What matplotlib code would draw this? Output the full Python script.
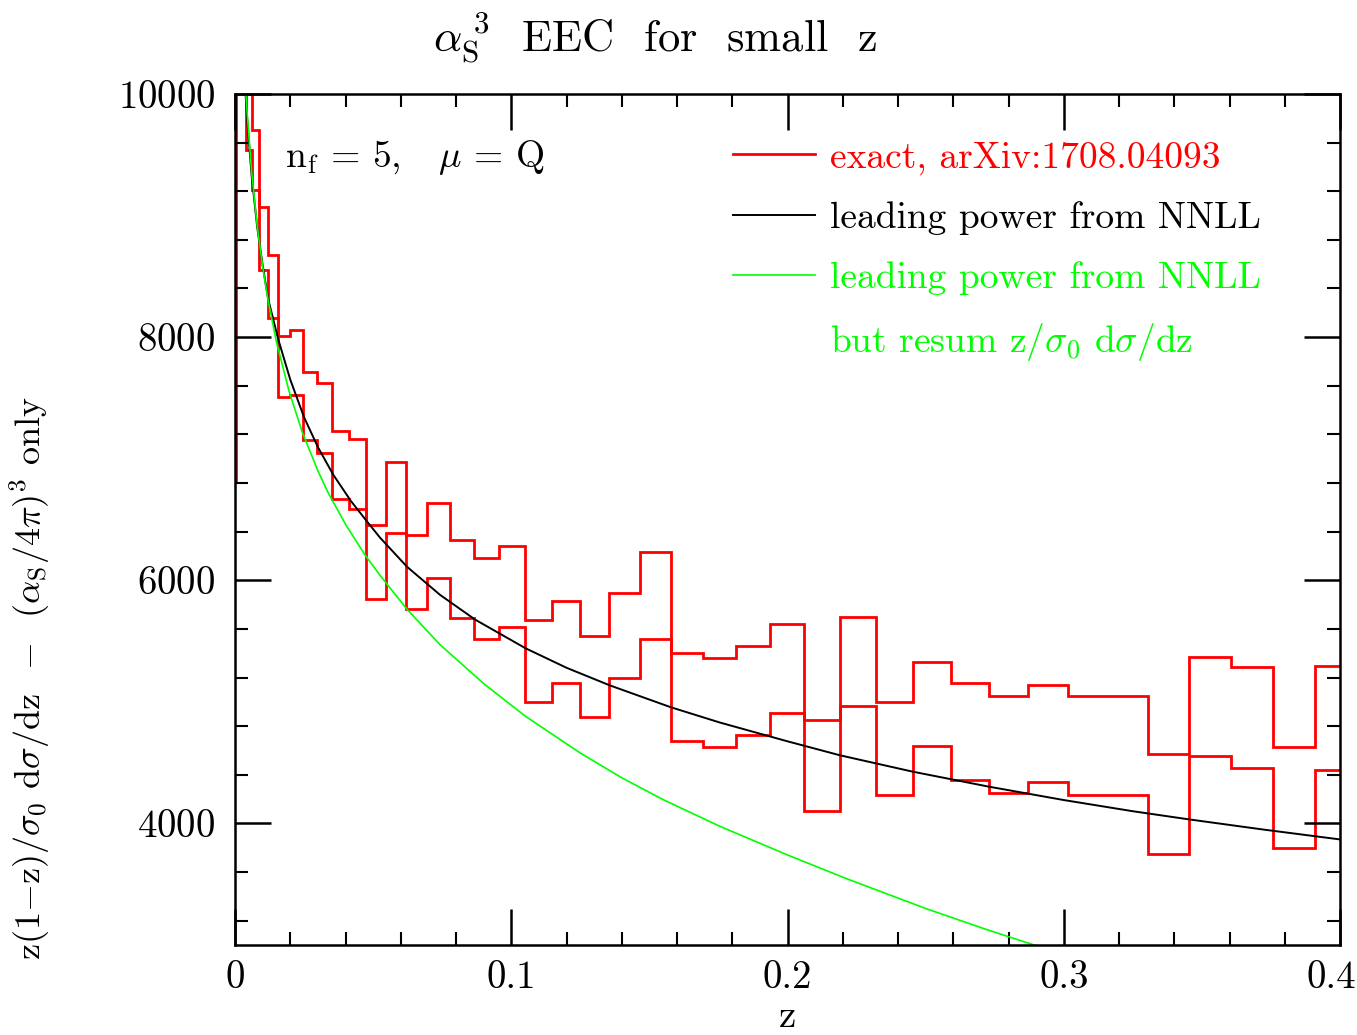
import matplotlib
matplotlib.use('Agg')
import matplotlib.pyplot as plt
from matplotlib.ticker import MultipleLocator
from matplotlib.transforms import ScaledTranslation

# bin edges in z
edges = [0, 0.000247, 0.000987, 0.002219, 0.003943, 0.006156, 0.008856, 0.012041,
         0.015708, 0.019853, 0.024472, 0.029560, 0.035112, 0.041123, 0.047586,
         0.054497, 0.061847, 0.069629, 0.077836, 0.086460, 0.095492, 0.104922,
         0.114743, 0.124944, 0.135516, 0.146447, 0.157726, 0.169344, 0.181288,
         0.193546, 0.206107, 0.218958, 0.232087, 0.245480, 0.259123, 0.273005,
         0.287110, 0.301426, 0.315937, 0.330631, 0.345492, 0.360504, 0.375655,
         0.390929, 0.406309]

# exact result, upper and lower histograms
exact_hi = [11800, 13000, 12500, 11500, 10800, 9706, 9070, 8672, 8010, 8058,
            7714, 7619, 7224, 7160, 6453, 6975, 6373, 6634, 6332, 6183,
            6280, 5671, 5830, 5542, 5896, 6233, 5405, 5358, 5456, 5638,
            4850, 5701, 5002, 5325, 5152, 5044, 5137, 5048, 5048, 4574,
            5369, 5287, 4631, 5295]
exact_lo = [6820, 12000, 11000, 10500, 9537, 9207, 8554, 8160, 7509, 7523,
            7155, 7045, 6667, 6584, 5844, 6392, 5761, 6015, 5687, 5514,
            5613, 4998, 5158, 4875, 5196, 5520, 4678, 4631, 4724, 4911,
            4101, 4966, 4233, 4634, 4356, 4253, 4338, 4230, 4230, 3751,
            4554, 4455, 3797, 4436]

# leading power from NNLL
nnll_z = [0.0036, 0.0045, 0.0060, 0.0080, 0.0100, 0.0120, 0.0156, 0.0200, 0.0250,
          0.0300, 0.0355, 0.0420, 0.0479, 0.0525, 0.0623, 0.0742, 0.0870, 0.1052,
          0.1200, 0.1357, 0.1578, 0.1756, 0.2000, 0.2190, 0.2454, 0.2729, 0.3000,
          0.3250, 0.3453, 0.3720, 0.4000]
nnll_v = [10070, 9760, 9330, 8910, 8590, 8313, 7985, 7650, 7340,
          7095, 6870, 6650, 6480, 6350, 6110, 5880, 5675, 5440,
          5280, 5135, 4955, 4829, 4675, 4560, 4425, 4302, 4192,
          4100, 4033, 3950, 3868]

# leading power from NNLL, resummed z/sigma0 dsigma/dz
resum_z = [0.0036, 0.0042, 0.0060, 0.0080, 0.0100, 0.0120, 0.0150, 0.0195, 0.0243,
           0.0300, 0.0337, 0.0400, 0.0470, 0.0525, 0.0623, 0.0742, 0.0900, 0.1052,
           0.1249, 0.1400, 0.1550, 0.1756, 0.2000, 0.2214, 0.2500, 0.2719, 0.2892,
           0.2950]
resum_v = [10120, 9900, 9360, 8920, 8580, 8300, 7960, 7560, 7220,
           6900, 6720, 6460, 6210, 6040, 5760, 5470, 5150, 4880,
           4580, 4375, 4195, 3975, 3740, 3545, 3300, 3128, 3000,
           2958]

plt.rcParams['font.family'] = 'cmr10'
plt.rcParams['mathtext.fontset'] = 'cm'
plt.rcParams['axes.formatter.use_mathtext'] = True

fig = plt.figure(figsize=(13.57, 10.35), dpi=100)
ax = fig.add_axes([0.1732, 0.0870, 0.8143, 0.8222])

ax.stairs(exact_hi, edges, color='#ff0000', lw=2.0, baseline=None)
h_exact = ax.stairs(exact_lo, edges, color='#ff0000', lw=2.0, baseline=None)
h_nnll, = ax.plot(nnll_z, nnll_v, color='black', lw=1.4)
h_resum, = ax.plot(resum_z, resum_v, color='#00ff00', lw=1.2)

ax.set_xlim(0, 0.4)
ax.set_ylim(3000, 10000)
ax.set_xticks([0, 0.1, 0.2, 0.3, 0.4])
ax.set_xticklabels(['0', '0.1', '0.2', '0.3', '0.4'])
ax.set_yticks([4000, 6000, 8000, 10000])
ax.xaxis.set_minor_locator(MultipleLocator(0.02))
ax.yaxis.set_minor_locator(MultipleLocator(400))
ax.tick_params(which='both', direction='in', top=True, right=True, labelsize=28)
ax.tick_params(which='major', length=26, width=1.8)
ax.tick_params(which='minor', length=9.5, width=1.5)
ax.tick_params(axis='x', pad=11)
ax.tick_params(axis='y', pad=14)
for s in ax.spines.values():
    s.set_linewidth(1.8)

last = ax.get_xticklabels()[-1]
last.set_transform(last.get_transform() + ScaledTranslation(-9 / 100, 0, fig.dpi_scale_trans))

ax.set_xlabel('z', fontsize=28, labelpad=2)
ax.set_ylabel(r'z(1$-$z)/$\sigma_0$ d$\sigma$/dz  $-$  ($\alpha_{\rm S}$/4$\pi$)$^3$ only',
              fontsize=26)
ax.yaxis.set_label_coords(-0.1656, 0.314)

fig.text(0.4827, 0.964, r'$\alpha_{\rm S}^{\ 3}$  EEC  for  small  z', fontsize=32,
         ha='center', va='center')
ax.text(0.045, 0.925, r'n$_{\rm f}$ = 5,   $\mu$ = Q', fontsize=27,
        transform=ax.transAxes, va='center')

blank, = ax.plot([], [], color='none')
ax.legend([h_exact, h_nnll, h_resum, blank],
          ['exact, arXiv:1708.04093', 'leading power from NNLL',
           'leading power from NNLL', r'but resum z/$\sigma_0$ d$\sigma$/dz'],
          labelcolor=['#ff0000', 'black', '#00ff00', '#00ff00'],
          loc='upper left', bbox_to_anchor=(0.4507, 0.9448), frameon=False,
          fontsize=27, handlelength=2.19, handletextpad=0.4, labelspacing=0.7,
          borderpad=0, borderaxespad=0)

fig.savefig('out.png', dpi=100)
